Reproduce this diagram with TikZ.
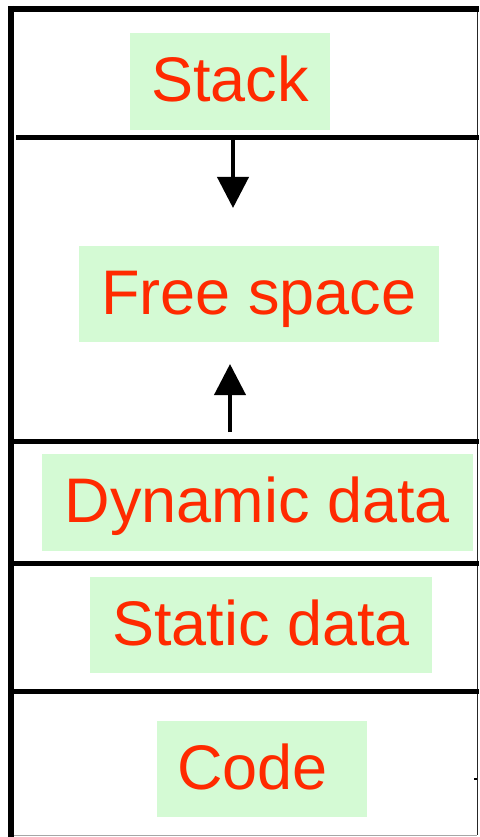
\documentclass[tikz,border=0pt]{standalone}
\usepackage{fontspec}
\setmainfont{Liberation Sans}
\usetikzlibrary{arrows.meta}
\definecolor{segfill}{RGB}{212,250,212}
\definecolor{segtext}{RGB}{255,42,0}
\begin{document}
\begin{tikzpicture}[x=1pt,y=-1pt,
  seglabel/.style={fill=segfill,text=segtext,inner sep=0pt,
    font=\fontsize{63}{70}\selectfont,text height=45pt,text depth=5pt},
  frame/.style={line width=5.5pt,black},
  divider/.style={line width=5pt,black},
  growth/.style={line width=4pt,-{Triangle[width=31pt,length=31pt]}}]
\useasboundingbox[fill=white] (0,0) rectangle (479,837);

% outer frame of the memory layout
\draw[line width=1pt,gray!70] (14,835.5) -- (477,835.5);
\draw[line width=1.6pt,black!85] (477.5,9) -- (477.5,835);
\draw[frame] (11,6) -- (11,837);
\draw[frame] (8,9) -- (479,9);

% segment boundaries
\draw[divider] (16,137.5) -- (479,137.5);
\draw[divider] (14,441) -- (479,441);
\draw[divider] (14,563.5) -- (479,563.5);
\draw[divider] (14,691.5) -- (479,691.5);
\draw[line width=2pt,black] (474,779) -- (477,779);

% segment labels
\node[seglabel,minimum width=200pt,minimum height=97pt] (stack) at (230,81.5) {Stack};
\node[seglabel,minimum width=360pt,minimum height=96pt] (free) at (259,294) {Free space};
\node[seglabel,minimum width=431pt,minimum height=97pt] (dyn) at (257.5,502.5) {Dynamic data};
\node[seglabel,minimum width=342pt,minimum height=96pt] (static) at (261,625) {Static data};
\node[seglabel,minimum width=210pt,minimum height=96pt] (code) at (262,769) {\hspace*{-19pt}Code};

% growth directions of stack and heap
\coordinate (stacktop) at (233,140);
\coordinate (stacktip) at (233,208);
\coordinate (heaptop) at (230,432);
\coordinate (heaptip) at (230,364);
\draw[growth] (stacktop) -- (stacktip);
\draw[growth] (heaptop) -- (heaptip);
\end{tikzpicture}
\end{document}
